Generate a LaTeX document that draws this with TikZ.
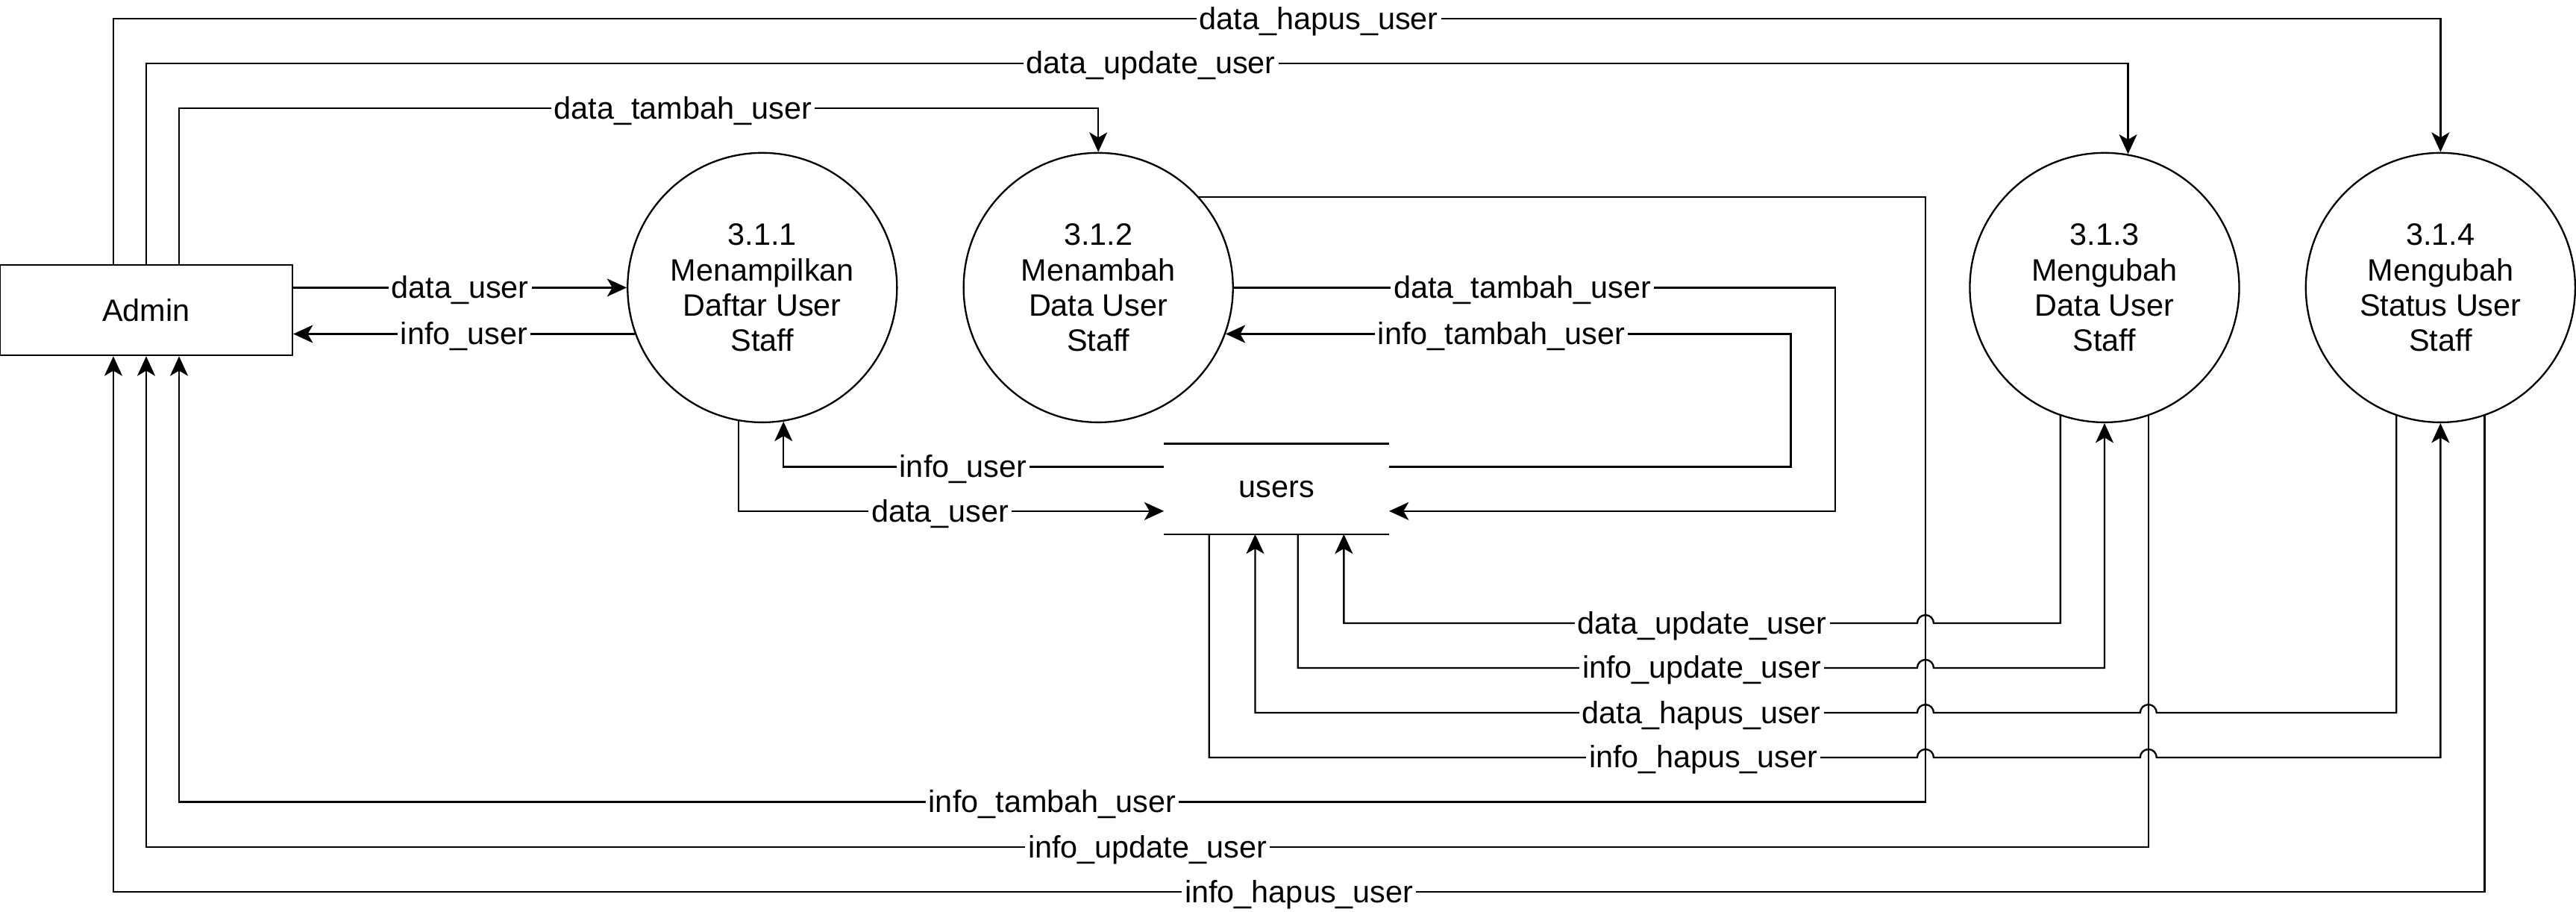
\documentclass[tikz,border=0pt]{standalone}
\usepackage{fontspec}
\setmainfont{Liberation Sans}
\usetikzlibrary{positioning, arrows.meta}

\begin{document}
\begin{tikzpicture}[x=0.02cm,y=-0.02cm,line width=0.6pt,>={Stealth[length=6.8pt,width=6.2pt,inset=1.8pt]},
	every node/.style={font=\fontsize{10.7}{12.2}\selectfont},
	proc/.style={circle,draw,minimum size=3.28cm,inner sep=0pt,align=center},
	ent/.style={rectangle,draw,minimum width=3.56cm,minimum height=1.1cm},
	store/.style={rectangle,minimum width=2.72cm,minimum height=1.08cm},
	lbl/.style={fill=white,inner sep=1pt,yshift=-0.03cm},
	node distance=0.79cm]
	\useasboundingbox (0,0) rectangle (1568,554.5);
	% create the nodes
	\node[ent] (admin) at (89,188.75) {Admin};
	\node[proc] (p1) at (464,175) {3.1.1\\Menampilkan\\Daftar User\\Staff};
	\node[proc] (p2) [right =of p1] {3.1.2\\Menambah\\Data User\\Staff};
	\node[proc] (p3) at (1281,175) {3.1.3\\Mengubah\\Data User\\Staff};
	\node[proc] (p4) [right =of p3] {3.1.4\\Mengubah\\Status User\\Staff};
	\node[store] (users) at (777,297.5) {users};
	\draw (users.north west) -- (users.north east) (users.south west) -- (users.south east);
	% rails
	\coordinate (r1) at (0,11.5);
	\coordinate (r2) at (0,38.6);
	\coordinate (r3) at (0,66);
	\coordinate (b5) at (0,488);
	\coordinate (b6) at (0,515.4);
	\coordinate (b7) at (0,542.7);
	\coordinate (c1) at (1172,0);
	\coordinate (c2) at (1090,0);
	\coordinate (c3) at (1117,0);
	\coordinate (aN1) at ([xshift=-0.4cm]admin.north);
	\coordinate (aN3) at ([xshift=0.4cm]admin.north);
	\coordinate (aS1) at ([xshift=-0.4cm]admin.south);
	\coordinate (aS3) at ([xshift=0.4cm]admin.south);
	% admin -> processes
	\draw[->] (aN1) -- (aN1 |- r1) -| node[lbl,pos=.259]{data\_hapus\_user} (p4.north);
	\draw[->] (admin.north) -- (admin.north |- r2) -| node[lbl,pos=.2535]{data\_update\_user} (p3.80);
	\draw[->] (aN3) -- (aN3 |- r3) -| node[lbl,pos=.274]{data\_tambah\_user} (p2.north);
	\draw[->] (p1.west -| admin.east) -- node[lbl]{data\_user} (p1.west);
	\draw[->] (p1.200) -- node[lbl]{info\_user} (p1.200 -| admin.east);
	% 3.1.1 <-> users
	\draw[->] ([yshift=0.27cm]users.west) -| node[lbl,pos=.264]{info\_user} (p1.-81);
	\draw[->] (p1.260) |- node[lbl,pos=.737]{data\_user} ([yshift=-0.27cm]users.west);
	% 3.1.2 <-> users
	\draw[->] (p2.east) -- node[lbl,pos=.48]{data\_tambah\_user} (p2.east -| c3) |- ([yshift=-0.27cm]users.east);
	\draw[->] ([yshift=0.27cm]users.east) -| (c2 |- p2.-20) -- node[lbl,pos=.512]{info\_tambah\_user} (p2.-20);
	\draw[->] (p2.42) -| (c1 |- b5) -| node[lbl,pos=.25]{info\_tambah\_user} (aS3);
	% 3.1.3, 3.1.4 <-> users
	\draw[->] (p3.-109) |- (1177,379.2) arc (0:180:0.1cm) -| node[lbl,pos=.1875]{data\_update\_user} ([xshift=0.82cm]users.south);
	\draw[->] ([xshift=0.26cm]users.south) |- node[lbl,pos=.826]{info\_update\_user} (1167,406.4) arc (180:0:0.1cm) -| (p3.south);
	\draw[->] (p4.-109) |- (1312.7,433.7) arc (0:180:0.1cm) -- (1177,433.7) arc (0:180:0.1cm) -| node[lbl,pos=.163]{data\_hapus\_user} ([xshift=-0.26cm]users.south);
	\draw[->] ([xshift=-0.82cm]users.south) |- node[lbl,pos=.849]{info\_hapus\_user} (1167,460.9) arc (180:0:0.1cm) -- (1302.7,460.9) arc (180:0:0.1cm) -| (p4.south);
	% processes -> admin
	\draw[->] (p3.-71) -- (p3.-71 |- b6) -| node[lbl,pos=.25]{info\_update\_user} (admin.south);
	\draw[->] (p4.-71) -- (p4.-71 |- b7) -| node[lbl,pos=.25]{info\_hapus\_user} (aS1);
\end{tikzpicture}
\end{document}
